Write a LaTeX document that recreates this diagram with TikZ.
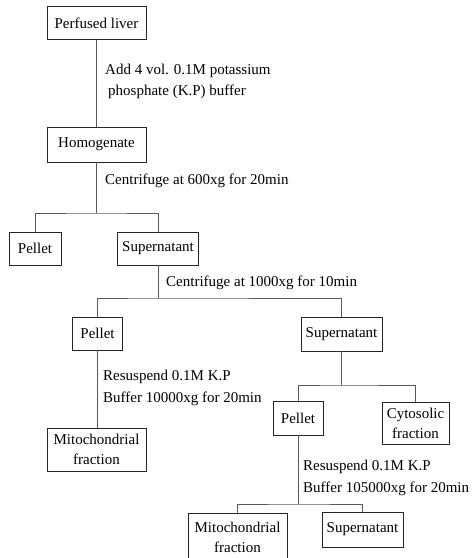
\documentclass[tikz,border=0pt]{standalone}
\usepackage{fontspec}
\setmainfont{Liberation Serif}
\usetikzlibrary{positioning}

\begin{document}
\begin{tikzpicture}[x=1pt,y=-1pt,
  box/.style={draw=black!85,line width=0.8pt,minimum height=33pt,inner sep=2pt,
    align=center,font=\fontsize{15}{20}\selectfont},
  note/.style={anchor=west,align=left,inner sep=0pt,font=\fontsize{15}{21.5}\selectfont},
  link/.style={draw=black!65,line width=0.8pt}]
\useasboundingbox (0,0) rectangle (473,558);
% boxes
\node[box,minimum width=99pt] (liver) at (96.5,23) {Perfused liver};
\node[box,minimum width=99pt,minimum height=35pt] (homog) at (96.5,144.5) {Homogenate};
\node[box,minimum width=52pt] (pel1) at (35,248.5) {Pellet};
\node[box,minimum width=81pt] (sup1) at (158,248.5) {Supernatant};
\node[box,minimum width=50pt] (pel2) at (97.5,333.5) {Pellet};
\node[box,minimum width=81pt,minimum height=34pt] (sup2) at (341.5,334) {Supernatant};
\node[box,minimum width=99pt,minimum height=43pt] (mito1) at (96.5,449.5) {Mitochondrial\\fraction};
\node[box,minimum width=50pt,minimum height=34pt] (pel3) at (298,418) {Pellet};
\node[box,minimum width=67pt,minimum height=42pt] (cyto) at (415.5,423) {Cytosolic\\fraction};
\node[box,minimum width=99pt,minimum height=48pt] (mito2) at (237.5,537) {Mitochondrial\\fraction};
\node[box,minimum width=81pt,minimum height=35pt] (sup3) at (362.5,529.5) {Supernatant};
% branch points
\coordinate (c1) at (96.5,213);
\coordinate (c2) at (158,298);
\coordinate (c3) at (341.5,385);
\coordinate (c4) at (298,504);
% tree
\draw[link] (liver) -- (homog);
\draw[link] (homog) -- (c1);
\draw[link] (pel1.north) |- (c1) -| (sup1.north);
\draw[link] (sup1) -- (c2);
\draw[link] (pel2.north) |- (c2) -| (sup2.north);
\draw[link] (pel2.south) -- (pel2.south |- mito1.north);
\draw[link] (sup2) -- (c3);
\draw[link] (pel3.north) |- (c3) -| (cyto.north);
\draw[link] (pel3) -- (c4);
\draw[link] (mito2.north) |- (c4) -| (sup3.north);
% steps
\node[note] (add) at (105,81.5) {Add 4 vol. 0.1M potassium\\\hspace{3pt}phosphate (K.P) buffer};
\node[note] (spin1) at (105,181) {Centrifuge at 600xg for 20min};
\node[note] (spin2) at (166,283) {Centrifuge at 1000xg for 10min};
\node[note] (resus1) at (103,388) {Resuspend 0.1M K.P\\Buffer 10000xg for 20min};
\node[note] (resus2) at (303,478) {Resuspend 0.1M K.P\\Buffer 105000xg for 20min};
\end{tikzpicture}
\end{document}
